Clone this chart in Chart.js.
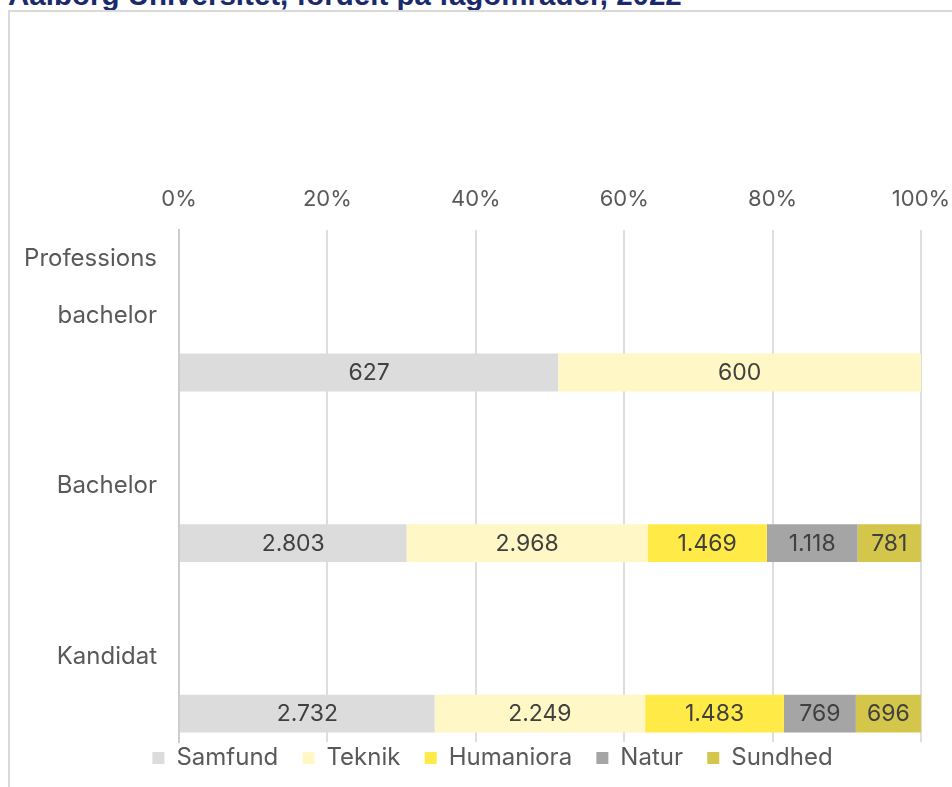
<!DOCTYPE html>
<html>
<head>
<meta charset="utf-8">
<script src="https://cdn.jsdelivr.net/npm/chart.js@4"></script>
<style>
  body { margin: 0; background: #fff; overflow: hidden; }
  .frame { position: absolute; left: 8px; top: 10px; width: 1000px; height: 900px;
           border-left: 2px solid #d9d9d9; border-top: 2px solid #d9d9d9; }
  .title { position: absolute; left: 8px; top: -22px; white-space: nowrap;
           font: bold 29.5px "Liberation Sans", Arial, sans-serif; color: #1a2a6c; }
  #chart { position: absolute; left: 0; top: 0; }
</style>
</head>
<body>
<div class="title">Aalborg Universitet, fordelt på fagområder, 2022</div>
<div class="frame"></div>
<canvas id="chart" width="952" height="787"></canvas>
<script>
// Categories and student counts per subject area
const categories = [['Professions', 'bachelor', ''], 'Bachelor', 'Kandidat'];
const seriesNames = ['Samfund', 'Teknik', 'Humaniora', 'Natur', 'Sundhed'];
const seriesColors = ['#dcdcdc', '#fff8c6', '#ffea47', '#a5a5a5', '#d4c54b'];

const samfund   = [627, 2803, 2732];
const teknik    = [600, 2968, 2249];
const humaniora = [0, 1469, 1483];
const natur     = [0, 1118, 769];
const sundhed   = [0, 781, 696];

const xTicks = [0, 20, 40, 60, 80, 100];

const counts = [samfund, teknik, humaniora, natur, sundhed];
const totals = categories.map((c, i) => counts.reduce((s, arr) => s + arr[i], 0));

// Danish thousand separator
function fmt(n) {
    return String(n).replace(/\B(?=(\d{3})+(?!\d))/g, '.');
}

const FONT = 'Inter';

// Draw the counts centred in every segment
const valueLabels = {
    id: 'valueLabels',
    afterDatasetsDraw(chart) {
        const ctx = chart.ctx;
        ctx.save();
        ctx.font = '23px ' + FONT;
        ctx.fillStyle = '#404040';
        ctx.textAlign = 'center';
        ctx.textBaseline = 'middle';
        chart.data.datasets.forEach((ds, i) => {
            if (!ds.counts) return;
            chart.getDatasetMeta(i).data.forEach((bar, j) => {
                const n = ds.counts[j];
                if (!n) return;
                const p = bar.getProps(['x', 'y', 'base'], true);
                ctx.fillText(fmt(n), (p.x + p.base) / 2, p.y + 1);
            });
        });
        ctx.restore();
    }
};

// legend sits a bit right of the canvas centre
const legendShift = {
    id: 'legendShift',
    afterLayout(chart) {
        chart.legend.left += 64;
    }
};

// two empty stacks push the real bar to the bottom of each band
const datasets = [
    { label: 'pad1', data: [0, 0, 0], stack: 'pad1', backgroundColor: 'transparent' },
    { label: 'pad2', data: [0, 0, 0], stack: 'pad2', backgroundColor: 'transparent' }
];
seriesNames.forEach((name, k) => {
    datasets.push({
        label: name,
        data: counts[k].map((v, i) => v / totals[i] * 100),
        counts: counts[k],
        stack: 'main',
        backgroundColor: seriesColors[k],
        borderWidth: 0
    });
});

new Chart(document.getElementById('chart'), {
    type: 'bar',
    data: { labels: categories, datasets: datasets },
    plugins: [valueLabels, legendShift],
    options: {
        indexAxis: 'y',
        responsive: false,
        animation: false,
        categoryPercentage: 1,
        barPercentage: 0.665,
        layout: { padding: { top: 168, right: 31, bottom: 7, left: 0 } },
        scales: {
            x: {
                position: 'top',
                stacked: true,
                min: 0,
                max: 100,
                z: 1,
                afterBuildTicks: scale => { scale.ticks = xTicks.map(v => ({ value: v })); },
                afterFit: scale => { scale.paddingLeft = 0; scale.paddingRight = 0; },
                ticks: {
                    callback: v => v + '%',
                    color: '#595959',
                    font: { family: FONT, size: 22 },
                    padding: 18
                },
                grid: { color: 'rgba(190,190,190,0.5)', lineWidth: 2, drawTicks: false },
                border: { display: false }
            },
            y: {
                z: 1,
                afterFit: scale => {
                    scale.width = 179;
                    scale.paddingTop = 0;
                    scale.paddingBottom = 0;
                },
                ticks: {
                    autoSkip: false,
                    color: '#595959',
                    font: { family: FONT, size: 24, lineHeight: '57px' },
                    padding: 22
                },
                grid: { display: false, drawTicks: false },
                border: { color: '#cdcdcd', width: 2 }
            }
        },
        plugins: {
            tooltip: { enabled: false },
            legend: {
                position: 'bottom',
                labels: {
                    filter: item => item.datasetIndex >= 2,
                    // trailing spaces widen the gap between legend items
                    generateLabels: chart => Chart.defaults.plugins.legend.labels.generateLabels(chart)
                        .map(item => {
                            if (item.text !== seriesNames[seriesNames.length - 1]) item.text += '   ';
                            return item;
                        }),
                    boxWidth: 12,
                    boxHeight: 12,
                    color: '#595959',
                    font: { family: FONT, size: 24 },
                    padding: 4
                }
            }
        }
    }
});
</script>
</body>
</html>
